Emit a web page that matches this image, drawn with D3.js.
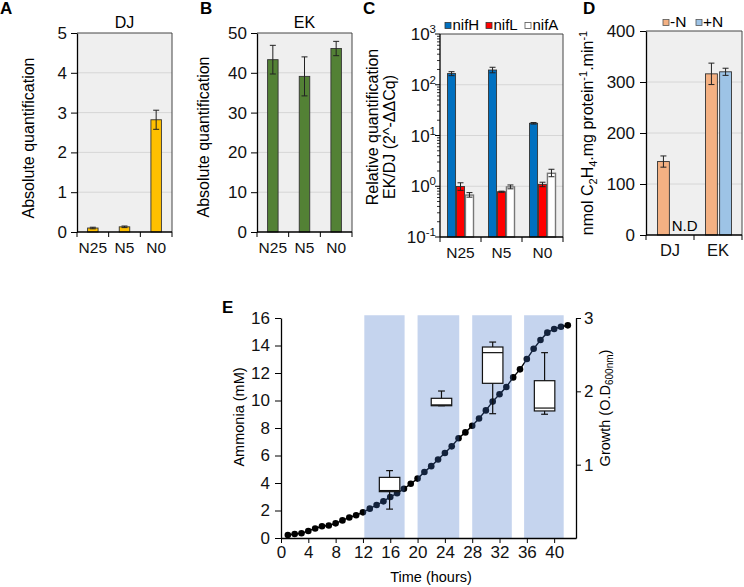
<!DOCTYPE html>
<html><head><meta charset="utf-8">
<script src="https://cdn.jsdelivr.net/npm/d3@7"></script>
<style>
body{margin:0;background:#fff;}
svg{font-family:Arial,"Liberation Sans",Helvetica,sans-serif;}
.axis path,.axis line{stroke:#000;}
</style></head><body>
<svg id="fig" width="744" height="587"></svg>
<script>
// ---------- DATA ----------
// Panel A (DJ) and B (EK)
const catsAB = ["N25", "N5", "N0"];
const djVals = [0.10, 0.13, 2.82];
const djErr  = [0.02, 0.02, 0.24];
const ekVals = [43.3, 39.1, 46.1];
const ekErr  = [3.6, 4.9, 1.8];
const ticksA = [0, 1, 2, 3, 4, 5];
const ticksB = [0, 10, 20, 30, 40, 50];

// Panel C (relative quantification, log)
const catsC   = ["N25", "N5", "N0"];
const seriesC = ["nifH", "nifL", "nifA"];
const nifH    = [166, 195, 17.4];
const nifHLo  = [151, 172, 16.8];
const nifHHi  = [181, 221, 18.0];
const nifL    = [0.99, 0.78, 1.09];
const nifLLo  = [0.83, 0.76, 0.98];
const nifLHi  = [1.17, 0.80, 1.20];
const nifA    = [0.67, 0.97, 1.80];
const nifALo  = [0.61, 0.89, 1.54];
const nifAHi  = [0.75, 1.06, 2.16];
const ticksCexp = [-1, 0, 1, 2, 3];

// Panel D (nitrogenase activity)
const catsD   = ["DJ", "EK"];
const seriesD = ["-N", "+N"];
const minusN    = [144, 316];
const minusNErr = [11, 21];
const plusN     = [null, 320];
const plusNErr  = [null, 7];
const ticksD = [0, 100, 200, 300, 400];

// Panel E
const hours = [1,2,3,4,5,6,7,8,9,10,11,12,13,14,15,16,17,18,19,20,21,22,23,24,25,26,27,28,29,30,31,32,33,34,35,36,37,38,39,40,41,42];
const growthOD = [0.041,0.054,0.064,0.096,0.13,0.16,0.17,0.20,0.24,0.28,0.31,0.35,0.40,0.45,0.50,0.56,0.61,0.67,0.74,0.81,0.90,0.98,1.07,1.16,1.25,1.36,1.44,1.53,1.63,1.74,1.86,1.96,2.06,2.19,2.30,2.44,2.58,2.70,2.80,2.85,2.88,2.90];
const bandStart = [12.2, 20.0, 28.0, 35.6];
const bandEnd   = [18.1, 26.1, 33.8, 41.4];
const boxTime   = [15.9, 23.5, 31.0, 38.6];
const boxWLo    = [2.10, 9.62, 9.04, 9.00];
const boxQ1     = [3.37, 9.62, 11.25, 9.24];
const boxMed    = [3.45, 9.68, 13.48, 9.45];
const boxQ3     = [4.41, 10.16, 13.89, 11.44];
const boxWHi    = [4.90, 10.69, 14.25, 13.48];
const ticksEleft = [0, 2, 4, 6, 8, 10, 12, 14, 16];
const ticksEbottom = [0, 4, 8, 12, 16, 20, 24, 28, 32, 36, 40];
const ticksEright = [1, 2, 3];

// ---------- DRAW ----------
const svg = d3.select("#fig");
const BG = "#efefef", GRID = "#d6d6d6", EDGE = "#333";
const fmt = d3.format("d");

function panelLetter(t, x, y) {
  svg.append("text").attr("x", x).attr("y", y).attr("font-size", 17)
    .attr("font-weight", "bold").text(t);
}
function errBar(g, x, lo, hi, w) {
  g.append("line").attr("x1", x).attr("x2", x).attr("y1", lo).attr("y2", hi)
    .attr("stroke", "#222").attr("stroke-width", 1);
  [lo, hi].forEach(y => g.append("line").attr("x1", x - w / 2).attr("x2", x + w / 2)
    .attr("y1", y).attr("y2", y).attr("stroke", "#222").attr("stroke-width", 1));
}
function frame(x0, x1, y0, y1) {
  svg.append("rect").attr("x", x0).attr("y", y0).attr("width", x1 - x0)
    .attr("height", y1 - y0).attr("fill", BG);
}
function border(x0, x1, y0, y1) {
  svg.append("path").attr("d", `M${x0},${y0}H${x1}V${y1}`)
    .attr("fill", "none").attr("stroke", "#444").attr("stroke-width", 1);
}
function styleAxis(g, fs) {
  g.attr("class", "axis").attr("font-size", fs).attr("font-family", null);
  g.selectAll("path").attr("stroke-width", 1.3);
  g.selectAll("text").attr("fill", "#111");
}
function catAxis(x, y, cats, fs) {
  const [r0, r1] = x.range();
  const g = svg.append("g").attr("transform", `translate(0,${y})`);
  g.append("line").attr("x1", r0).attr("x2", r1).attr("stroke", "#000").attr("stroke-width", 1.3);
  const step = x.step();
  d3.range(cats.length + 1).forEach(i => g.append("line")
    .attr("x1", r0 + i * step).attr("x2", r0 + i * step).attr("y1", 0).attr("y2", 5)
    .attr("stroke", "#000"));
  cats.forEach(c => g.append("text").attr("x", x(c) + x.bandwidth() / 2).attr("y", 21)
    .attr("text-anchor", "middle").attr("font-size", fs).attr("fill", "#111").text(c));
}

// generic simple bar panel (A, B)
function simplePanel(opt) {
  const {x0, x1, y0, y1, vals, errs, ticks, color, title, ylab, labX, labY} = opt;
  frame(x0, x1, y0, y1);
  const x = d3.scaleBand().domain(catsAB).range([x0, x1]);
  const y = d3.scaleLinear().domain([ticks[0], ticks[ticks.length - 1]]).range([y1, y0]);
  ticks.slice(1, -1).forEach(t => svg.append("line").attr("x1", x0).attr("x2", x1)
    .attr("y1", y(t)).attr("y2", y(t)).attr("stroke", GRID));
  border(x0, x1, y0, y1);
  const g = svg.append("g");
  catsAB.forEach((c, i) => {
    const cx = x(c) + x.bandwidth() / 2, bw = 10.5;
    g.append("rect").attr("x", cx - bw / 2).attr("y", y(vals[i])).attr("width", bw)
      .attr("height", y(0) - y(vals[i])).attr("fill", color).attr("stroke", EDGE).attr("stroke-width", 0.9);
    errBar(g, cx, y(vals[i] - errs[i]), y(vals[i] + errs[i]), 6);
  });
  const ya = svg.append("g").attr("transform", `translate(${x0},0)`)
    .call(d3.axisLeft(y).tickValues(ticks).tickFormat(fmt).tickSize(6).tickPadding(4).tickSizeOuter(0));
  styleAxis(ya, 17);
  catAxis(x, y1, catsAB, 15.5);
  svg.append("text").attr("x", (x0 + x1) / 2).attr("y", y0 - 5).attr("text-anchor", "middle")
    .attr("font-size", 16).text(title);
  svg.append("text").attr("transform", `translate(${labX},${labY}) rotate(-90)`)
    .attr("text-anchor", "middle").attr("font-size", 16).text(ylab);
}

simplePanel({x0: 77, x1: 172, y0: 33, y1: 232, vals: djVals, errs: djErr, ticks: ticksA,
  color: "#ffc000", title: "DJ", ylab: "Absolute quantification", labX: 34, labY: 138});
simplePanel({x0: 257, x1: 352, y0: 33, y1: 232, vals: ekVals, errs: ekErr, ticks: ticksB,
  color: "#538135", title: "EK", ylab: "Absolute quantification", labX: 209, labY: 137});
panelLetter("A", 0, 14);
panelLetter("B", 200, 14);

// ---------- Panel C ----------
(function () {
  const x0 = 440, x1 = 563, y0 = 34, y1 = 237;
  frame(x0, x1, y0, y1);
  const x = d3.scaleBand().domain(catsC).range([x0, x1]);
  const y = d3.scaleLog().domain([0.1, 1000]).range([y1, y0]);
  ticksCexp.slice(1, -1).forEach(e => svg.append("line").attr("x1", x0).attr("x2", x1)
    .attr("y1", y(Math.pow(10, e))).attr("y2", y(Math.pow(10, e))).attr("stroke", GRID));
  border(x0, x1, y0, y1);
  const sub = d3.scaleBand().domain(seriesC).range([-13, 13]).paddingInner(0.1);
  const colors = {nifH: "#0070c0", nifL: "#ff0000", nifA: "#ffffff"};
  const vals = {nifH: [nifH, nifHLo, nifHHi], nifL: [nifL, nifLLo, nifLHi], nifA: [nifA, nifALo, nifAHi]};
  const g = svg.append("g");
  catsC.forEach((c, i) => {
    const cc = x(c) + x.bandwidth() / 2;
    seriesC.forEach(s => {
      const bx = cc + sub(s), bw = sub.bandwidth();
      const v = vals[s][0][i];
      g.append("rect").attr("x", bx).attr("y", y(v)).attr("width", bw)
        .attr("height", y1 - y(v)).attr("fill", colors[s])
        .attr("stroke", s === "nifA" ? "#777" : "#333").attr("stroke-width", s === "nifA" ? 1.4 : 0.9);
      errBar(g, bx + bw / 2, y(vals[s][1][i]), y(vals[s][2][i]), 6);
    });
  });
  // log axis
  const ag = svg.append("g").attr("class", "axis");
  ag.append("line").attr("x1", x0).attr("x2", x0).attr("y1", y0).attr("y2", y1).attr("stroke", "#000").attr("stroke-width", 1.3);
  for (let e = -1; e < 3; e++) {
    for (let m = 2; m < 10; m++) {
      const yy = y(m * Math.pow(10, e));
      ag.append("line").attr("x1", x0 - 3).attr("x2", x0).attr("y1", yy).attr("y2", yy).attr("stroke", "#000").attr("stroke-width", 0.8);
    }
  }
  ticksCexp.forEach(e => {
    const yy = y(Math.pow(10, e));
    ag.append("line").attr("x1", x0 - 5).attr("x2", x0).attr("y1", yy).attr("y2", yy).attr("stroke", "#000");
    const t = ag.append("text").attr("x", x0 - 4).attr("y", yy + 6).attr("text-anchor", "end")
      .attr("font-size", 17).attr("fill", "#111");
    t.append("tspan").text("10");
    t.append("tspan").attr("font-size", 11.5).attr("dy", -7).text(String(e));
  });
  catAxis(x, y1, catsC, 15.5);
  // legend
  const lx = [445, 486, 525];
  seriesC.forEach((s, i) => {
    svg.append("rect").attr("x", lx[i]).attr("y", 22.5).attr("width", 6).attr("height", 6)
      .attr("fill", colors[s]).attr("stroke", s === "nifA" ? "#555" : "#333").attr("stroke-width", 0.8);
    svg.append("text").attr("x", lx[i] + 7.5).attr("y", 30).attr("font-size", 15).text(s);
  });
  svg.append("text").attr("transform", "translate(378,127) rotate(-90)")
    .attr("text-anchor", "middle").attr("font-size", 16).text("Relative quantification");
  svg.append("text").attr("transform", "translate(395,137) rotate(-90)")
    .attr("text-anchor", "middle").attr("font-size", 16).text("EK/DJ (2^-\u0394\u0394Cq)");
  panelLetter("C", 363, 14);
})();

// ---------- Panel D ----------
(function () {
  const x0 = 646, x1 = 742, y0 = 31, y1 = 235;
  frame(x0, x1, y0, y1);
  const x = d3.scaleBand().domain(catsD).range([x0, x1]);
  const y = d3.scaleLinear().domain([0, 400]).range([y1, y0]);
  ticksD.slice(1, -1).forEach(t => svg.append("line").attr("x1", x0).attr("x2", x1)
    .attr("y1", y(t)).attr("y2", y(t)).attr("stroke", GRID));
  border(x0, x1, y0, y1);
  const sub = d3.scaleBand().domain(seriesD).range([-12.5, 13.5]).paddingInner(0.16);
  const colors = {"-N": "#f4b183", "+N": "#9dc3e6"};
  const vals = {"-N": [minusN, minusNErr], "+N": [plusN, plusNErr]};
  const g = svg.append("g");
  catsD.forEach((c, i) => {
    const cc = x(c) + x.bandwidth() / 2;
    seriesD.forEach(s => {
      const bx = cc + sub(s), bw = sub.bandwidth();
      const v = vals[s][0][i];
      if (v == null) {
        g.append("text").attr("x", bx).attr("y", y1 - 4).attr("font-size", 15).text("N.D");
        return;
      }
      g.append("rect").attr("x", bx).attr("y", y(v)).attr("width", bw)
        .attr("height", y1 - y(v)).attr("fill", colors[s]).attr("stroke", "#333").attr("stroke-width", 0.9);
      errBar(g, bx + bw / 2, y(v - vals[s][1][i]), y(v + vals[s][1][i]), 6);
    });
  });
  const ya = svg.append("g").attr("transform", `translate(${x0},0)`)
    .call(d3.axisLeft(y).tickValues(ticksD).tickFormat(fmt).tickSize(6).tickPadding(5).tickSizeOuter(0));
  styleAxis(ya, 17);
  catAxis(x, y1, catsD, 16.5);
  const lx = [663, 696];
  seriesD.forEach((s, i) => {
    svg.append("rect").attr("x", lx[i]).attr("y", 19.5).attr("width", 6).attr("height", 6)
      .attr("fill", colors[s]).attr("stroke", "#555").attr("stroke-width", 0.8);
    svg.append("text").attr("x", lx[i] + 7).attr("y", 26.5).attr("font-size", 15.5).text(s);
  });
  const lab = svg.append("text").attr("transform", "translate(593,133) rotate(-90)")
    .attr("text-anchor", "middle").attr("font-size", 16);
  lab.append("tspan").text("nmol C");
  lab.append("tspan").attr("font-size", 11).attr("dy", 4).text("2");
  lab.append("tspan").attr("dy", -4).text("H");
  lab.append("tspan").attr("font-size", 11).attr("dy", 4).text("4");
  lab.append("tspan").attr("dy", -4).text(".mg protein");
  lab.append("tspan").attr("font-size", 11).attr("dy", -6).text("-1");
  lab.append("tspan").attr("dy", 6).text(".min");
  lab.append("tspan").attr("font-size", 11).attr("dy", -6).text("-1");
  panelLetter("D", 583, 14);
})();

// ---------- Panel E ----------
(function () {
  const xE = d3.scaleLinear().domain([0, 43.2]).range([281, 576]);
  const yL = d3.scaleLinear().domain([0, 16]).range([538, 318]);
  const yR = d3.scaleLinear().domain([0, 3]).range([538, 318]);
  const g = svg.append("g");
  // growth curve
  const pts = hours.map((h, i) => [xE(h), yR(growthOD[i])]);
  g.append("path").attr("d", d3.line()(pts)).attr("fill", "none").attr("stroke", "#000").attr("stroke-width", 1.4);
  g.selectAll("circle").data(pts).join("circle").attr("cx", d => d[0]).attr("cy", d => d[1])
    .attr("r", 3.3).attr("fill", "#000");
  // shaded bands (translucent, above the curve)
  bandStart.forEach((s, i) => g.append("rect").attr("x", xE(s)).attr("y", yL(16.2))
    .attr("width", xE(bandEnd[i]) - xE(s)).attr("height", yL(0) - yL(16.2))
    .attr("fill", "rgb(62,112,198)").attr("fill-opacity", 0.3));
  // boxes
  const bw = xE(3) - xE(0), cw = xE(1) - xE(0);
  boxTime.forEach((t, i) => {
    const cx = xE(t);
    g.append("line").attr("x1", cx).attr("x2", cx).attr("y1", yL(boxWLo[i])).attr("y2", yL(boxWHi[i]))
      .attr("stroke", "#111").attr("stroke-width", 1.2);
    [boxWLo[i], boxWHi[i]].forEach(v => g.append("line").attr("x1", cx - cw / 2).attr("x2", cx + cw / 2)
      .attr("y1", yL(v)).attr("y2", yL(v)).attr("stroke", "#111").attr("stroke-width", 1.2));
    g.append("rect").attr("x", cx - bw / 2).attr("y", yL(boxQ3[i])).attr("width", bw)
      .attr("height", yL(boxQ1[i]) - yL(boxQ3[i])).attr("fill", "#fff").attr("stroke", "#111").attr("stroke-width", 1.2);
    g.append("line").attr("x1", cx - bw / 2).attr("x2", cx + bw / 2)
      .attr("y1", yL(boxMed[i])).attr("y2", yL(boxMed[i])).attr("stroke", "#111").attr("stroke-width", 1.2);
  });
  const al = svg.append("g").attr("transform", "translate(281,0)")
    .call(d3.axisLeft(yL).tickValues(ticksEleft).tickFormat(fmt).tickSize(6).tickPadding(5).tickSizeOuter(0));
  styleAxis(al, 17);
  const ab = svg.append("g").attr("transform", "translate(0,538)")
    .call(d3.axisBottom(xE).tickValues(ticksEbottom).tickFormat(fmt).tickSize(5).tickPadding(3).tickSizeOuter(0));
  styleAxis(ab, 17);
  const ar = svg.append("g").attr("transform", "translate(576,0)")
    .call(d3.axisRight(yR).tickValues(ticksEright).tickFormat(fmt).tickSize(5).tickPadding(3).tickSizeOuter(0));
  styleAxis(ar, 17);
  svg.append("text").attr("transform", "translate(244,417) rotate(-90)")
    .attr("text-anchor", "middle").attr("font-size", 14.5).text("Ammonia (mM)");
  const gl = svg.append("text").attr("transform", "translate(610,408) rotate(-90)")
    .attr("text-anchor", "middle").attr("font-size", 14.5);
  gl.append("tspan").text("Growth (O.D");
  gl.append("tspan").attr("font-size", 10).attr("dy", 3).text("600nm");
  gl.append("tspan").attr("dy", -3).text(")");
  svg.append("text").attr("x", 431).attr("y", 582).attr("text-anchor", "middle")
    .attr("font-size", 14.5).text("Time (hours)");
  panelLetter("E", 222, 313);
})();
</script>
</body></html>
